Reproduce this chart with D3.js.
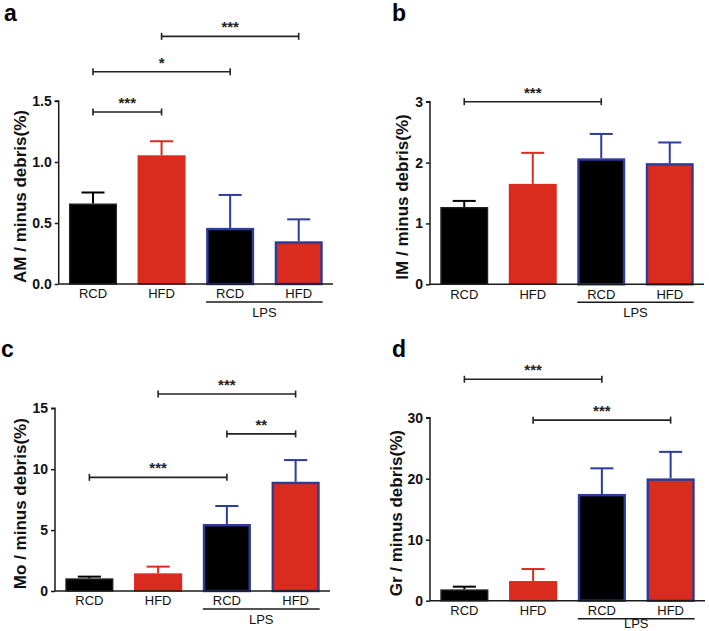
<!DOCTYPE html>
<html>
<head>
<meta charset="utf-8">
<script src="https://cdn.jsdelivr.net/npm/d3@7"></script>
<style>
  html, body { margin: 0; padding: 0; background: #fff; }
  svg { display: block; font-family: "Liberation Sans", Arial, sans-serif; }
</style>
</head>
<body>
<svg id="chart" width="709" height="631"></svg>
<script>
// ---------- data ----------
const categories = ["RCD", "HFD", "RCD", "HFD"];
const groupLabel = "LPS";
const fillKinds = ["black", "red", "black", "red"];
const lpsFlags = [false, false, true, true];

const amMean = [0.66, 1.055, 0.46, 0.35];
const amSem  = [0.09, 0.115, 0.27, 0.18];
const amTicks = [0, 0.5, 1.0, 1.5];

const imMean = [1.27, 1.65, 2.07, 1.99];
const imSem  = [0.10, 0.51, 0.40, 0.34];
const imTicks = [0, 1, 2, 3];

const moMean = [1.04, 1.45, 5.5, 8.97];
const moSem  = [0.14, 0.55, 1.48, 1.78];
const moTicks = [0, 5, 10, 15];

const grMean = [1.86, 3.22, 17.5, 20.05];
const grSem  = [0.44, 1.97, 4.2, 4.35];
const grTicks = [0, 10, 20, 30];

// significance brackets: [from index, to index, height in data units, label]
const amSig = [[0, 1, 1.41, "***"], [0, 2, 1.74, "*"], [1, 3, 2.03, "***"]];
const imSig = [[0, 2, 3.0, "***"]];
const moSig = [[0, 2, 9.33, "***"], [2, 3, 12.9, "**"], [1, 3, 16.17, "***"]];
const grSig = [[0, 2, 36.3, "***"], [1, 3, 29.6, "***"]];

// ---------- style ----------
const RED = "#d92b1e";
const BLUE = "#2d3b9b";
const BLACK = "#000000";
const AXIS = "#1a1a1a";
const FONT = "'Liberation Sans', Arial, sans-serif";

const panels = [
  { letter: "a", lx: 4, ly: 21, title: "AM / minus debris(%)", mean: amMean, sem: amSem, ticks: amTicks,
    fmt: d3.format(".1f"), sig: amSig, left: 58.7, right: 333, top: 101, bottom: 284, titleX: 20 },
  { letter: "b", lx: 392, ly: 21, title: "IM / minus debris(%)", mean: imMean, sem: imSem, ticks: imTicks,
    fmt: d3.format("d"), sig: imSig, left: 430, right: 704, top: 101.7, bottom: 284.3, titleX: 402 },
  { letter: "c", lx: 1, ly: 357, title: "Mo / minus debris(%)", mean: moMean, sem: moSem, ticks: moTicks,
    fmt: d3.format("d"), sig: moSig, left: 55, right: 330, top: 408.3, bottom: 591, titleX: 20 },
  { letter: "d", lx: 392, ly: 357, title: "Gr / minus debris(%)", mean: grMean, sem: grSem, ticks: grTicks,
    fmt: d3.format("d"), sig: grSig, left: 430, right: 705, top: 417.7, bottom: 600.7, titleX: 396 }
];

const svg = d3.select("#chart");

panels.forEach(p => {
  const g = svg.append("g");
  const yMax = p.ticks[p.ticks.length - 1];
  const x = d3.scaleBand().domain(d3.range(categories.length))
    .range([p.left, p.right]).paddingInner(0.3).paddingOuter(0.15);
  const y = d3.scaleLinear().domain([0, yMax]).range([p.bottom, p.top]);

  // panel letter
  g.append("text").attr("x", p.lx).attr("y", p.ly)
    .attr("font-size", 23).attr("font-weight", "bold").attr("fill", "#000").text(p.letter);

  // bars
  const bw = x.bandwidth();
  categories.forEach((c, i) => {
    const fill = fillKinds[i] === "red" ? RED : BLACK;
    const edge = lpsFlags[i] ? BLUE : (fillKinds[i] === "red" ? RED : "#222");
    const errCol = lpsFlags[i] ? BLUE : (fillKinds[i] === "red" ? RED : BLACK);
    const cx = x(i) + bw / 2;
    const top = y(p.mean[i]);
    const errTop = y(p.mean[i] + p.sem[i]);
    // error bar
    g.append("line").attr("x1", cx).attr("x2", cx).attr("y1", top).attr("y2", errTop)
      .attr("stroke", errCol).attr("stroke-width", 2);
    g.append("line").attr("x1", cx - bw * 0.24).attr("x2", cx + bw * 0.24)
      .attr("y1", errTop).attr("y2", errTop).attr("stroke", errCol).attr("stroke-width", 2);
    const sw = lpsFlags[i] ? 2.4 : 1.4;
    g.append("rect")
      .attr("x", x(i) + sw / 2).attr("y", top + sw / 2)
      .attr("width", bw - sw).attr("height", Math.max(0, p.bottom - top - sw / 2))
      .attr("fill", fill).attr("stroke", edge).attr("stroke-width", sw);
  });

  // y axis
  const yAxis = d3.axisLeft(y).tickValues(p.ticks).tickFormat(p.fmt).tickSize(4).tickPadding(3);
  const ya = g.append("g").attr("transform", `translate(${p.left},0)`).call(yAxis);
  ya.select(".domain").attr("stroke", AXIS).attr("stroke-width", 1.5).attr("d", `M-4,${p.top}H0V${p.bottom}`);
  ya.selectAll(".tick line").attr("stroke", AXIS).attr("stroke-width", 1.5);
  ya.selectAll(".tick text").attr("font-size", 14).attr("font-weight", "bold")
    .attr("fill", "#111").attr("font-family", FONT);

  // x axis (line only) with category labels
  const xAxis = d3.axisBottom(x).tickSize(0).tickPadding(5).tickFormat(i => categories[i]);
  const xa = g.append("g").attr("transform", `translate(0,${p.bottom})`).call(xAxis);
  xa.select(".domain").attr("stroke", AXIS).attr("stroke-width", 1.5).attr("d", `M${p.left},0H${p.right}`);
  xa.selectAll(".tick text").attr("font-size", 13).attr("fill", "#111").attr("font-family", FONT);

  // LPS group line and label
  const gx1 = x(2), gx2 = x(3) + bw;
  g.append("line").attr("x1", gx1).attr("x2", gx2).attr("y1", p.bottom + 18).attr("y2", p.bottom + 18)
    .attr("stroke", AXIS).attr("stroke-width", 1.4);
  g.append("text").attr("x", (gx1 + gx2) / 2).attr("y", Math.min(p.bottom + 32.5, 627.5))
    .attr("text-anchor", "middle").attr("font-size", 13).attr("fill", "#111").text(groupLabel);

  // y title
  g.append("text")
    .attr("transform", `translate(${p.titleX + 6},${(p.top + p.bottom) / 2 + 4}) rotate(-90)`)
    .attr("text-anchor", "middle").attr("font-size", 17).attr("font-weight", "bold")
    .attr("fill", "#111").text(p.title);

  // significance brackets
  p.sig.forEach(([a, b, h, lab]) => {
    const x1 = x(a) + bw / 2, x2 = x(b) + bw / 2, yy = y(h);
    g.append("line").attr("x1", x1).attr("x2", x2).attr("y1", yy).attr("y2", yy)
      .attr("stroke", "#222").attr("stroke-width", 1.6);
    [x1, x2].forEach(xx => g.append("line").attr("x1", xx).attr("x2", xx)
      .attr("y1", yy - 3.5).attr("y2", yy + 3.5).attr("stroke", "#222").attr("stroke-width", 1.6));
    g.append("text").attr("x", (x1 + x2) / 2).attr("y", yy - 4)
      .attr("text-anchor", "middle").attr("font-size", 15).attr("font-weight", "bold")
      .attr("fill", "#222").text(lab);
  });
});
</script>
</body>
</html>
